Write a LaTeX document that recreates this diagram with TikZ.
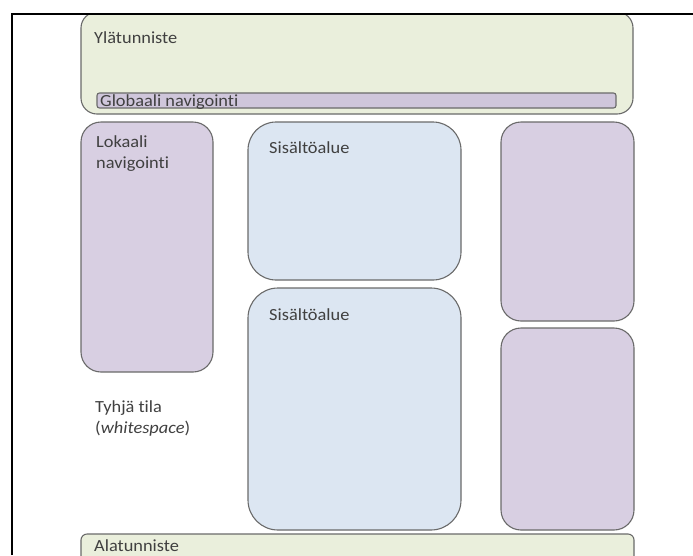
\documentclass[tikz,border=0pt]{standalone}
\usepackage{fontspec}
\setmainfont{Carlito}[FakeStretch=1.08,Ligatures=NoCommon]
\definecolor{hdrgreen}{HTML}{EAEFDC}
\definecolor{navpurple}{HTML}{D8CFE2}
\definecolor{gnavpurple}{HTML}{CFC6DB}
\definecolor{contblue}{HTML}{DCE6F2}
\definecolor{edgegray}{HTML}{6A6A6A}
\definecolor{txtgray}{HTML}{404040}
\begin{document}
\begin{tikzpicture}[x=1pt,y=-1pt,
  box/.style={draw=edgegray,line width=1.1pt},
  lbl/.style={anchor=base west,inner sep=0pt,text=txtgray,font=\fontsize{17}{21}\selectfont}]
\useasboundingbox (0,0) rectangle (693,555);
\begin{scope}
\clip (0,14) rectangle (693,555);
% header
\draw[box,fill=hdrgreen,rounded corners=16pt] (81,12) rectangle (633,114);
% footer
\draw[box,fill=hdrgreen,rounded corners=6pt] (81,534) rectangle (634,575);
\end{scope}
% global navigation bar
\draw[box,fill=gnavpurple,rounded corners=2.5pt] (97,93) rectangle (616,108);
% local navigation
\draw[box,fill=navpurple,rounded corners=20pt] (81,122) rectangle (213,372);
% content areas
\draw[box,fill=contblue,rounded corners=28pt] (248,122) rectangle (461,280);
\draw[box,fill=contblue,rounded corners=30pt] (248,288) rectangle (461,530);
% right column
\draw[box,fill=navpurple,rounded corners=20pt] (501,122) rectangle (634,321);
\draw[box,fill=navpurple,rounded corners=20pt] (501,328) rectangle (634,530);
% outer frame
\draw[line width=1.2pt,black] (12,555) -- (12,14) -- (693,14);
% texts
\node[lbl] (ylat) at (94,43) {Ylätunniste};
\node[lbl] (gnav) at (100,106) {Globaali navigointi};
\node[lbl] (lok1) at (96,147) {Lokaali};
\node[lbl] (lok2) at (96,168) {navigointi};
\node[lbl] (sis1) at (269,153) {Sisältöalue};
\node[lbl] (sis2) at (269,320) {Sisältöalue};
\node[lbl] (tyh1) at (95,412) {Tyhjä tila};
\node[lbl] (tyh2) at (95,433) {(\textit{whitespace})};
\node[lbl] (ala) at (94,551) {Alatunniste};
\end{tikzpicture}
\end{document}
